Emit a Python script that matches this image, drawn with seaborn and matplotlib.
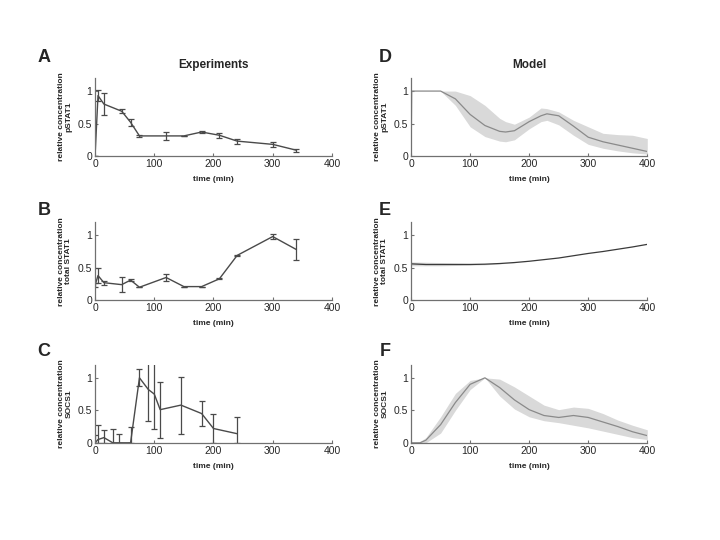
import numpy as np
import pandas as pd
import seaborn as sns
import matplotlib.pyplot as plt

# experiments: time points, mean and error (half-width)
t_pstat = [0, 5, 15, 45, 60, 75, 120, 150, 180, 210, 240, 300, 340]
y_pstat = [0.0, 0.93, 0.80, 0.69, 0.52, 0.31, 0.31, 0.31, 0.37, 0.32, 0.23, 0.18, 0.09]
e_pstat = [0.0, 0.085, 0.17, 0.03, 0.05, 0.02, 0.06, 0.0, 0.02, 0.04, 0.04, 0.04, 0.02]

t_stat = [0, 5, 15, 45, 60, 75, 120, 150, 180, 210, 240, 300, 340]
y_stat = [0.23, 0.38, 0.27, 0.24, 0.31, 0.20, 0.35, 0.21, 0.21, 0.33, 0.69, 0.98, 0.78]
e_stat = [0.03, 0.11, 0.03, 0.11, 0.01, 0.0, 0.05, 0.0, 0.0, 0.01, 0.01, 0.04, 0.16]

t_socs = [0, 5, 15, 30, 40, 60, 75, 90, 100, 110, 145, 180, 200, 240]
y_socs = [0.0, 0.05, 0.08, 0.0, 0.0, 0.0, 1.0, 0.82, 0.75, 0.51, 0.58, 0.45, 0.22, 0.14]
lo_socs = [0.0, 0.0, 0.0, 0.0, 0.0, 0.0, 0.87, 0.34, 0.22, 0.07, 0.14, 0.26, 0.0, 0.0]
hi_socs = [0.12, 0.28, 0.19, 0.21, 0.13, 0.25, 1.14, 1.25, 1.25, 0.94, 1.02, 0.65, 0.44, 0.39]

# model: time grid, mean, band low/high
tm_pstat = [0, 1, 25, 50, 75, 100, 125, 150, 160, 175, 200, 220, 230, 250, 275, 300, 325, 350, 375, 400]
m_pstat = [0.0, 1.0, 1.0, 1.0, 0.88, 0.64, 0.47, 0.38, 0.37, 0.39, 0.53, 0.62, 0.65, 0.62, 0.46, 0.29, 0.22, 0.17, 0.12, 0.07]
lo_pstat = [0.0, 1.0, 1.0, 1.0, 0.78, 0.45, 0.30, 0.23, 0.22, 0.25, 0.42, 0.53, 0.55, 0.48, 0.32, 0.18, 0.12, 0.08, 0.05, 0.03]
hi_pstat = [0.0, 1.0, 1.0, 1.0, 1.0, 0.93, 0.78, 0.58, 0.53, 0.49, 0.60, 0.74, 0.73, 0.68, 0.55, 0.45, 0.35, 0.33, 0.32, 0.27]

tm_stat = [0, 25, 50, 75, 100, 125, 150, 175, 200, 225, 250, 275, 300, 325, 350, 375, 400]
m_stat = [0.56, 0.55, 0.55, 0.55, 0.55, 0.555, 0.565, 0.58, 0.60, 0.625, 0.65, 0.685, 0.72, 0.75, 0.785, 0.82, 0.86]
lo_stat = [0.53, 0.53, 0.53, 0.535, 0.54, 0.545, 0.56, 0.578, 0.60, 0.625, 0.65, 0.685, 0.72, 0.75, 0.785, 0.82, 0.86]
hi_stat = [0.59, 0.585, 0.58, 0.575, 0.57, 0.565, 0.57, 0.582, 0.60, 0.625, 0.65, 0.685, 0.72, 0.75, 0.785, 0.82, 0.86]

tm_socs = [0, 15, 25, 50, 75, 100, 125, 150, 175, 200, 225, 250, 275, 300, 325, 350, 375, 400]
m_socs = [0.0, 0.0, 0.04, 0.28, 0.62, 0.90, 1.0, 0.85, 0.66, 0.51, 0.42, 0.39, 0.42, 0.39, 0.32, 0.25, 0.17, 0.11]
lo_socs_m = [0.0, 0.0, 0.0, 0.15, 0.50, 0.82, 1.0, 0.72, 0.52, 0.40, 0.34, 0.31, 0.27, 0.23, 0.18, 0.13, 0.08, 0.05]
hi_socs_m = [0.0, 0.02, 0.08, 0.40, 0.76, 0.96, 1.0, 0.98, 0.86, 0.72, 0.58, 0.51, 0.55, 0.53, 0.45, 0.35, 0.27, 0.20]

ylabels = ["relative concentration\npSTAT1", "relative concentration\ntotal STAT1",
           "relative concentration\nSOCS1"]
letters_left = ["A", "B", "C"]
letters_right = ["D", "E", "F"]

sns.set_style("ticks")
plt.rcParams['font.family'] = ['Liberation Sans', 'DejaVu Sans']

fig = plt.figure(figsize=(7.2, 5.4), dpi=100)
bottoms = [0.711, 0.444, 0.180]
h = 0.1444
axL = [fig.add_axes([0.132, b, 0.329, h]) for b in bottoms]
axR = [fig.add_axes([0.571, b, 0.328, h]) for b in bottoms]

line_col = "#4a4a4a"
spine_col = "#707070"

# experiments
exp = [(t_pstat, y_pstat, e_pstat, e_pstat), (t_stat, y_stat, e_stat, e_stat),
       (t_socs, y_socs, None, None)]
for i, ax in enumerate(axL):
    t, y, el, eh = exp[i]
    sns.lineplot(x=t, y=y, ax=ax, color=line_col, lw=1.0, estimator=None)
    if i < 2:
        yerr = [el, eh]
    else:
        yerr = [np.array(y_socs) - np.array(lo_socs), np.array(hi_socs) - np.array(y_socs)]
    ax.errorbar(t, y, yerr=yerr, fmt="none", ecolor=line_col, elinewidth=0.9,
                capsize=2, capthick=0.9)

# model
mod = [(tm_pstat, m_pstat, lo_pstat, hi_pstat), (tm_stat, m_stat, lo_stat, hi_stat),
       (tm_socs, m_socs, lo_socs_m, hi_socs_m)]
for i, ax in enumerate(axR):
    t, m, lo, hi = mod[i]
    ax.fill_between(t, lo, hi, color="#d9d9d9", lw=0)
    mcol = "#3a3a3a" if i == 1 else "#8a8a8a"
    sns.lineplot(x=t, y=m, ax=ax, color=mcol, lw=0.9, estimator=None)

for i, ax in enumerate(axL + axR):
    ax.set_xlim(0, 400)
    ax.set_ylim(0, 1.2)
    ax.set_xticks([0, 100, 200, 300, 400])
    ax.set_yticks([0, 0.5, 1])
    ax.set_yticklabels(["0", "0.5", "1"])
    ax.tick_params(direction="in", length=2.5, width=0.8, color=spine_col,
                   labelsize=7.5, pad=2)
    for s in ["top", "right"]:
        ax.spines[s].set_visible(False)
    for s in ["left", "bottom"]:
        ax.spines[s].set_color(spine_col)
        ax.spines[s].set_linewidth(0.9)
    ax.set_xlabel("time (min)", fontsize=6, fontweight="bold", labelpad=5)
    ax.set_ylabel(ylabels[i % 3], fontsize=6, fontweight="bold", labelpad=4,
                  linespacing=1.1)

axL[0].set_title("Experiments", fontsize=8.5, fontweight="bold", pad=7)
axR[0].set_title("Model", fontsize=8.5, fontweight="bold", pad=7)

ys = [0.893, 0.611, 0.350]
for lab, y in zip(letters_left, ys):
    fig.text(0.061, y, lab, fontsize=13, fontweight="bold", ha="center", va="center")
for lab, y in zip(letters_right, ys):
    fig.text(0.535, y, lab, fontsize=13, fontweight="bold", ha="center", va="center")

fig.savefig("out.png", dpi=100)
